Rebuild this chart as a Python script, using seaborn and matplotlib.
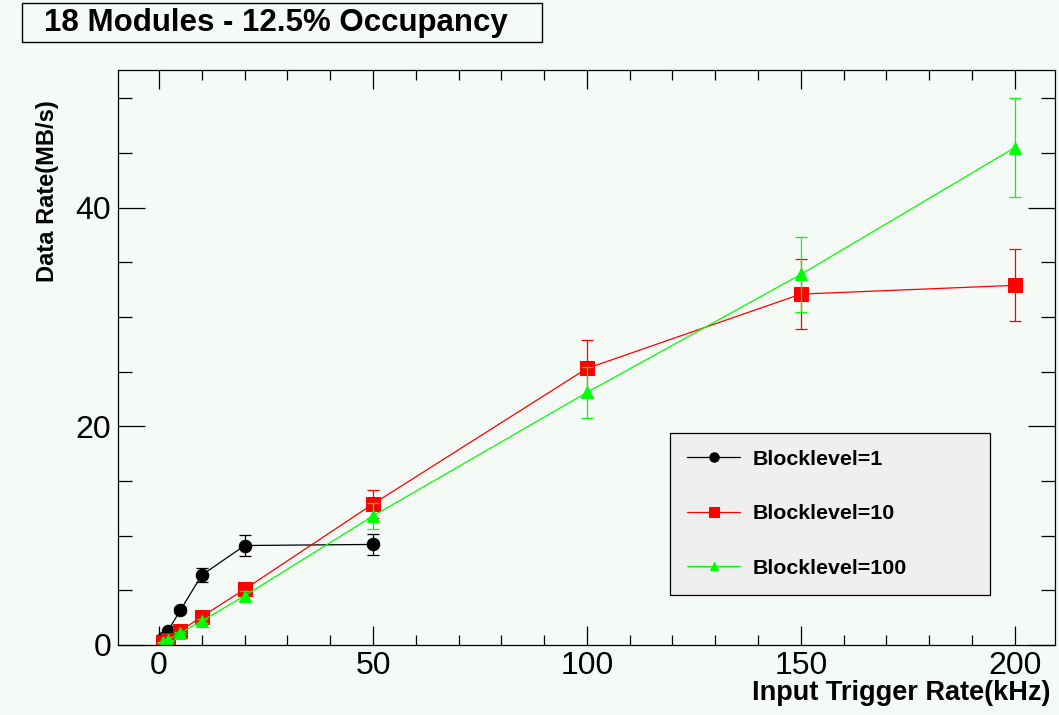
import matplotlib
matplotlib.use("Agg")
import matplotlib.pyplot as plt
import matplotlib.patches as mpatches
from matplotlib.ticker import MultipleLocator
import seaborn as sns
import pandas as pd

# ---- data ----
x_bl1 = [1, 2, 5, 10, 20, 50]
y_bl1 = [0.6, 1.25, 3.2, 6.4, 9.1, 9.2]
e_bl1 = [0.06, 0.12, 0.3, 0.6, 0.95, 0.95]

x_bl10 = [1, 2, 5, 10, 20, 50, 100, 150, 200]
y_bl10 = [0.25, 0.5, 1.3, 2.6, 5.1, 12.9, 25.3, 32.1, 32.9]
e_bl10 = [0.03, 0.05, 0.13, 0.26, 0.5, 1.3, 2.6, 3.2, 3.3]

x_bl100 = [1, 2, 5, 10, 20, 50, 100, 150, 200]
y_bl100 = [0.23, 0.45, 1.1, 2.2, 4.5, 11.8, 23.1, 33.9, 45.5]
e_bl100 = [0.02, 0.05, 0.11, 0.22, 0.45, 1.2, 2.3, 3.4, 4.5]

labels = ["Blocklevel=1", "Blocklevel=10", "Blocklevel=100"]
title = "18 Modules - 12.5% Occupancy"
xlabel = "Input Trigger Rate(kHz)"
ylabel = "Data Rate(MB/s)"
xticks = [0, 50, 100, 150, 200]
yticks = [0, 20, 40]

BG = "#f5faf6"

sns.set_theme(style="ticks")
plt.rcParams["font.family"] = ["Liberation Sans", "DejaVu Sans"]
plt.rcParams.update({"text.color": "black", "axes.labelcolor": "black",
                     "xtick.color": "black", "ytick.color": "black"})

W, H = 1059, 715
fig = plt.figure(figsize=(W / 100, H / 100), dpi=100, facecolor=BG)
ax = fig.add_axes([118 / W, 1 - 645 / H, (1055 - 118) / W, (645 - 70) / H])
ax.set_facecolor(BG)

series = [
    (x_bl1, y_bl1, e_bl1, "black", "o", 9, labels[0]),
    (x_bl10, y_bl10, e_bl10, "#ff0000", "s", 10, labels[1]),
    (x_bl100, y_bl100, e_bl100, "#00ff00", "^", 8, labels[2]),
]
for xs, ys, es, col, mk, ms, lab in series:
    df = pd.DataFrame({"x": xs, "y": ys})
    sns.lineplot(data=df, x="x", y="y", ax=ax, color=col, marker=mk,
                 markersize=ms, markeredgecolor=col, linewidth=0.9,
                 label=lab, sort=False, estimator=None)
    ax.errorbar(xs, ys, yerr=es, fmt="none", ecolor=col, elinewidth=0.9,
                capsize=4, capthick=0.9)

ax.set_xlim(-9.6, 209.4)
ax.set_ylim(0, 52.6)
ax.set_xticks(xticks)
ax.set_yticks(yticks)
ax.xaxis.set_minor_locator(MultipleLocator(10))
ax.yaxis.set_minor_locator(MultipleLocator(5))
ax.tick_params(axis="both", which="both", direction="in", top=True, right=True,
               colors="black", labelcolor="black", width=0.9)
ax.tick_params(axis="x", which="major", length=14, labelsize=23, pad=4.5)
ax.tick_params(axis="x", which="minor", length=7)
ax.tick_params(axis="y", which="major", length=19.5, labelsize=23, pad=5)
ax.tick_params(axis="y", which="minor", length=10)
for s in ax.spines.values():
    s.set_color("black")
    s.set_linewidth(0.9)

ax.set_xlabel(xlabel, fontsize=19.5, fontweight="bold", ha="right", va="center",
              color="black")
ax.xaxis.set_label_coords((1050 - 118) / 937, (645 - 693) / 575)
ax.set_ylabel(ylabel, fontsize=17, fontweight="bold", ha="right", va="center",
              color="black")
ax.yaxis.set_label_coords((48 - 118) / 937, (645 - 100) / 575)

leg = ax.legend(loc="lower left", bbox_to_anchor=(0.589, 0.087, 0.342, 0.287),
                mode="expand", frameon=True, fancybox=False, framealpha=1,
                facecolor="#efefef", edgecolor="black", prop={"size": 15.4, "weight": "bold"},
                handlelength=2.5, handletextpad=0.56, labelspacing=1.66,
                borderpad=0.8, borderaxespad=0, markerscale=0.75)
leg.get_frame().set_linewidth(0.9)
for t in leg.get_texts():
    t.set_color("black")

# title box
rect = mpatches.Rectangle((22 / W, 1 - 42 / H), 520 / W, 39 / H, transform=fig.transFigure,
                          facecolor=BG, edgecolor="black", linewidth=1.0)
fig.patches.append(rect)
fig.text(276 / W, 1 - 22.5 / H, title, ha="center", va="center", fontsize=22.5,
         fontweight="bold", color="black")

fig.savefig("out.png", dpi=100, facecolor=BG)
